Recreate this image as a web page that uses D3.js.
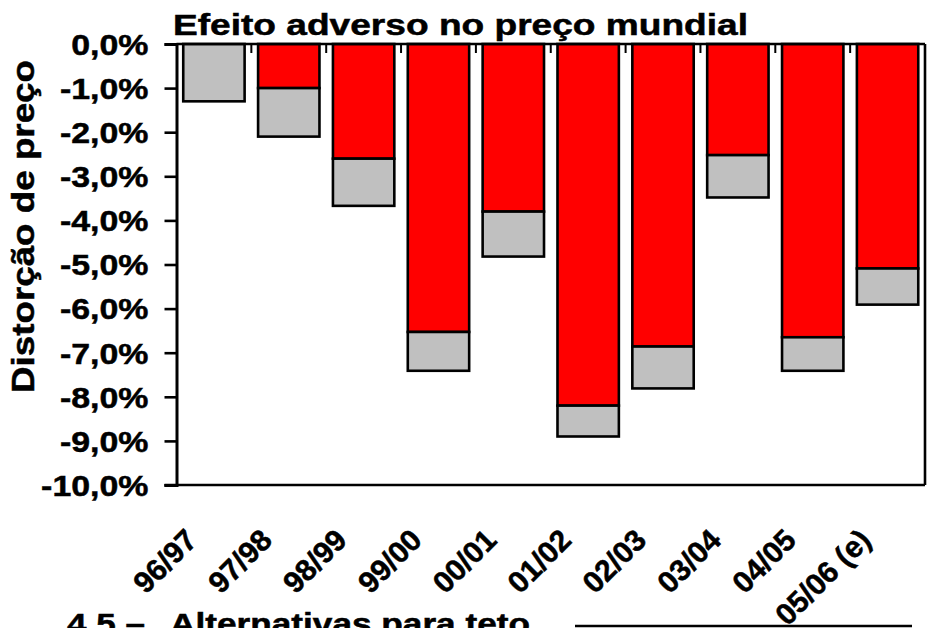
<!DOCTYPE html>
<html>
<head>
<meta charset="utf-8">
<script src="https://cdn.jsdelivr.net/npm/d3@7"></script>
<style>
  html, body { margin: 0; padding: 0; background: #fff; }
  svg { display: block; }
  text { font-family: "Liberation Sans", Arial, Helvetica, sans-serif; font-weight: bold; fill: #000; stroke: #000; stroke-width: 0.5px; }
</style>
</head>
<body>
<svg id="chart" width="932" height="628"></svg>
<script>
// ---- data ----
const categories = ["96/97", "97/98", "98/99", "99/00", "00/01", "01/02", "02/03", "03/04", "04/05", "05/06 (e)"];
const redValues  = [0, -1.0, -2.6, -6.53, -3.8, -8.2, -6.86, -2.52, -6.65, -5.09];
const grayValues = [-1.3, -1.1, -1.07, -0.88, -1.02, -0.7, -0.95, -0.96, -0.76, -0.82];
const yTickValues = [0, -1, -2, -3, -4, -5, -6, -7, -8, -9, -10];
const yTickLabels = ["0,0%", "-1,0%", "-2,0%", "-3,0%", "-4,0%", "-5,0%", "-6,0%", "-7,0%", "-8,0%", "-9,0%", "-10,0%"];
const titleText = "Efeito adverso no preço mundial";
const yAxisTitle = "Distorção de preço";

// ---- layout ----
const svg = d3.select("#chart");
const L = 176.5, R = 925, T = 44, B = 485;
const SW = 2.6;

const x = d3.scaleBand().domain(categories).range([L, R]).paddingInner(0.18).paddingOuter(0.09);
const y = d3.scaleLinear().domain([0, -10]).range([T, B]);

// stacked data
const stacked = categories.map((c, i) => ({
  cat: c,
  red: [0, redValues[i]],
  gray: [redValues[i], redValues[i] + grayValues[i]]
}));

const bars = svg.append("g");
// red segments
bars.selectAll("rect.red").data(stacked.filter(d => d.red[1] < 0)).join("rect")
  .attr("class", "red")
  .attr("x", d => x(d.cat))
  .attr("width", x.bandwidth())
  .attr("y", d => y(d.red[0]))
  .attr("height", d => y(d.red[1]) - y(d.red[0]))
  .attr("fill", "#FF0000").attr("stroke", "#000").attr("stroke-width", SW);
// gray segments
bars.selectAll("rect.gray").data(stacked).join("rect")
  .attr("class", "gray")
  .attr("x", d => x(d.cat))
  .attr("width", x.bandwidth())
  .attr("y", d => y(d.gray[0]))
  .attr("height", d => y(d.gray[1]) - y(d.gray[0]))
  .attr("fill", "#C0C0C0").attr("stroke", "#000").attr("stroke-width", SW);

// plot frame (top, right, bottom)
const frame = svg.append("g").attr("stroke", "#000").attr("stroke-width", SW).attr("fill", "none");
frame.append("line").attr("x1", L).attr("x2", R).attr("y1", T).attr("y2", T);
frame.append("line").attr("x1", R).attr("x2", R).attr("y1", T).attr("y2", B);
frame.append("line").attr("x1", L - 12).attr("x2", R).attr("y1", B).attr("y2", B);

// category boundary ticks on the top axis
const boundaries = categories.map(c => x(c) + x.bandwidth() + x.step() * x.paddingInner() / 2);
svg.append("g").selectAll("line").data(boundaries).join("line")
  .attr("x1", d => d).attr("x2", d => d)
  .attr("y1", T).attr("y2", T + 9)
  .attr("stroke", "#000").attr("stroke-width", 2);

// y axis
const yAxis = d3.axisLeft(y).tickValues(yTickValues).tickSize(12).tickPadding(0)
  .tickFormat((d, i) => yTickLabels[i]);
const gy = svg.append("g").attr("transform", `translate(${L},0)`).call(yAxis);
gy.select(".domain").attr("stroke", "#000").attr("stroke-width", SW + 0.4);
gy.selectAll(".tick line").attr("stroke", "#000").attr("stroke-width", SW);
gy.selectAll(".tick text")
  .attr("x", 0).attr("dy", null).attr("y", 0)
  .attr("text-anchor", "end")
  .attr("dominant-baseline", "central")
  .style("font-size", "30px")
  .attr("transform", "translate(-28,0) scale(1.13,1)");

// x labels (rotated)
svg.append("g").selectAll("text").data(categories).join("text")
  .attr("text-anchor", "end")
  .style("font-size", "30px")
  .attr("transform", d => `translate(${x(d) + x.bandwidth() / 2 - 15},542) rotate(-45)`)
  .text(d => d);

// title
svg.append("text")
  .attr("x", 173).attr("y", 35)
  .style("font-size", "29.5px")
  .attr("textLength", 575).attr("lengthAdjust", "spacingAndGlyphs")
  .text(titleText);

// y axis title
svg.append("text")
  .attr("transform", "translate(34,226.5) rotate(-90)")
  .attr("text-anchor", "middle")
  .style("font-size", "30.5px")
  .attr("textLength", 333).attr("lengthAdjust", "spacingAndGlyphs")
  .text(yAxisTitle);

// cut-off text at the bottom of the page (next section heading)
svg.append("text").attr("x", 67).attr("y", 634).style("font-size", "29px")
  .attr("textLength", 78).attr("lengthAdjust", "spacingAndGlyphs").text("4.5 –");
svg.append("text").attr("x", 170).attr("y", 634).style("font-size", "29px")
  .attr("textLength", 360).attr("lengthAdjust", "spacingAndGlyphs").text("Alternativas para teto");
svg.append("line").attr("x1", 575).attr("x2", 912).attr("y1", 626).attr("y2", 626)
  .attr("stroke", "#000").attr("stroke-width", 2.5);
</script>
</body>
</html>
